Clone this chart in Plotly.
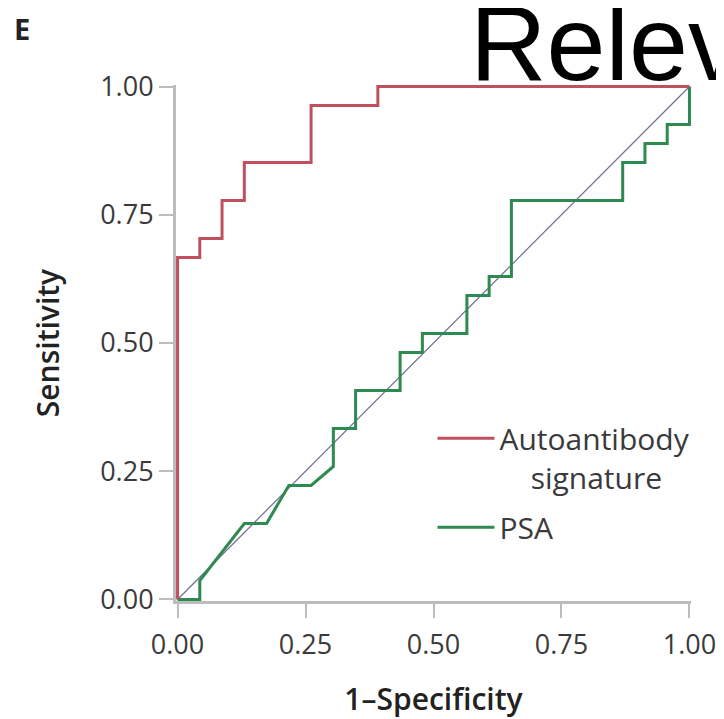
import plotly.graph_objects as go

# ROC data (fractions: 27 cases, 23 controls)
auto_fpr = [0, 0, 1, 1, 2, 2, 3, 3, 6, 6, 9, 9, 23]
auto_tpr = [0, 18, 18, 19, 19, 21, 21, 23, 23, 26, 26, 27, 27]

psa_fpr = [0, 1, 1, 3, 4, 5, 6, 7, 7, 8, 8, 10, 10, 11, 11, 13, 13, 14, 14, 15, 15,
           20, 20, 21, 21, 22, 22, 23, 23]
psa_tpr = [0, 0, 1, 4, 4, 6, 6, 7, 9, 9, 11, 11, 13, 13, 14, 14, 16, 16, 17, 17, 21,
           21, 23, 23, 24, 24, 25, 25, 27]

n_controls = 23
n_cases = 27

ref_line = [0, 1]
tick_vals = [0, 0.25, 0.5, 0.75, 1.0]
tick_text = ["0.00", "0.25", "0.50", "0.75", "1.00"]

font_fam = "Open Sans"
nb = "\u00a0"

fig = go.Figure()
fig.add_trace(go.Scatter(x=ref_line, y=ref_line, mode="lines",
                         line=dict(color="#6e6e96", width=1.2),
                         showlegend=False, hoverinfo="skip"))
fig.add_trace(go.Scatter(x=[v / n_controls for v in psa_fpr],
                         y=[v / n_cases for v in psa_tpr],
                         mode="lines", name="PSA", legendgroup="psa", legendrank=2,
                         line=dict(color="#2e8a50", width=3)))
fig.add_trace(go.Scatter(x=[v / n_controls for v in auto_fpr],
                         y=[v / n_cases for v in auto_tpr],
                         mode="lines", name="Autoantibody<br>" + nb * 4 + "signature",
                         legendgroup="auto", legendrank=1,
                         line=dict(color="#c0505e", width=3)))

axis_common = dict(range=[-0.003, 1.003], tickvals=tick_vals, ticktext=tick_text,
                   showgrid=False, zeroline=False, showline=True,
                   linecolor="#bcbcbc", linewidth=3, ticks="outside",
                   ticklen=14, tickwidth=2, tickcolor="#bcbcbc", automargin=False,
                   tickfont=dict(family=font_fam, size=27, color="#3a3a3a"))

fig.update_layout(
    width=716, height=711,
    margin=dict(l=168, r=33, t=77, b=118),
    paper_bgcolor="white", plot_bgcolor="white",
    xaxis=dict(**axis_common, ticklabelstandoff=4,
               title=dict(text="1\u2013Specificity", standoff=30,
                          font=dict(family=font_fam, size=30, weight=600,
                                    color="#222222"))),
    yaxis=dict(**axis_common,
               title=dict(text="Sensitivity", standoff=32,
                          font=dict(family=font_fam, size=30, weight=600,
                                    color="#222222"))),
    legend=dict(x=0.498, y=0.366, xanchor="left", yanchor="top",
                traceorder="grouped", valign="top", tracegroupgap=8,
                font=dict(family=font_fam, size=30, color="#3a3a3a"),
                bgcolor="rgba(0,0,0,0)", itemwidth=57),
    annotations=[
        dict(text="<b>E</b>", xref="paper", yref="paper", x=-0.318, y=1.110,
             xanchor="left", yanchor="middle", showarrow=False,
             font=dict(family=font_fam, size=29, color="#222222")),
        dict(text="Relev", xref="paper", yref="paper", x=0.567, y=0.963,
             xanchor="left", yanchor="bottom", showarrow=False,
             font=dict(family="Liberation Sans", size=106, color="black")),
    ],
)

fig.write_html("out.html")
